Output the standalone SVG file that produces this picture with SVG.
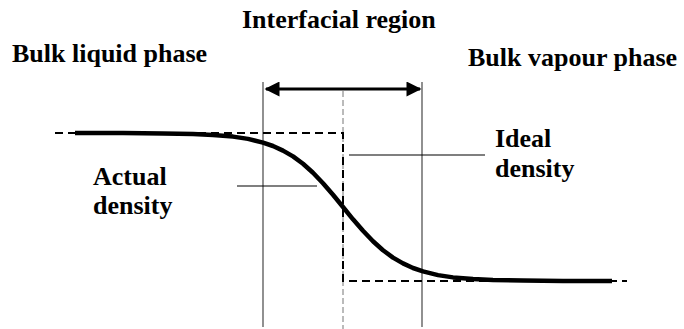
<svg xmlns="http://www.w3.org/2000/svg" width="684" height="329" viewBox="0 0 684 329">
<style>
.guide{stroke:#555;stroke-width:1.3;fill:none}
.ideal{stroke:#000;stroke-width:2;stroke-dasharray:8 5;fill:none}
.mid{stroke:#777;stroke-width:1;stroke-dasharray:6 3;fill:none}
.leader{stroke:#000;stroke-width:1.2;fill:none}
</style>
<defs>
<marker id="ah" viewBox="0 0 10 10" refX="9" refY="5" markerWidth="6" markerHeight="5" orient="auto-start-reverse" markerUnits="strokeWidth">
<path d="M0,0 L10,5 L0,10 Z" fill="#000"/>
</marker>
</defs>
<rect width="684" height="329" fill="#fff"/>
<g id="connectors">
<line class="guide" x1="263" y1="82" x2="263" y2="327"/>
<line class="guide" x1="422" y1="82" x2="422" y2="327"/>
<line class="mid" x1="343" y1="91" x2="343" y2="329"/>
<line x1="266" y1="89" x2="420" y2="89" stroke="#000" stroke-width="3" marker-start="url(#ah)" marker-end="url(#ah)"/>
<path class="ideal" d="M55,133 H343 V281 H627"/>
<polyline fill="none" stroke="#000" stroke-width="4.5" stroke-linejoin="round" points="75,133 123,133.1 163,133.4 193,134 213,134.9 233,136.6 248,138.9 263,142.6 273,146 283,150.6 293,156.4 303,163.8 313,172.7 323,183.2 333,194.8 343,207 353,219.3 363,230.8 373,241.3 383,250.2 393,257.6 403,263.4 413,268 423,271.4 438,275.1 453,277.4 473,279.1 493,280 523,280.6 563,280.9 612,281"/>
<line class="leader" x1="237" y1="186" x2="317" y2="186"/>
<line class="leader" x1="349" y1="155" x2="485" y2="155"/>
</g>
<g id="interfacial"><text x="242" y="28" style="font-family:'Liberation Serif',serif;font-weight:bold;font-size:26px">Interfacial region</text></g>
<g id="liquid"><text x="12" y="62" style="font-family:'Liberation Serif',serif;font-weight:bold;font-size:26px">Bulk liquid phase</text></g>
<g id="vapour"><text x="468" y="66" style="font-family:'Liberation Serif',serif;font-weight:bold;font-size:26px">Bulk vapour phase</text></g>
<g id="actual"><text x="93" y="185" style="font-family:'Liberation Serif',serif;font-weight:bold;font-size:26px">Actual</text><text x="93" y="214" style="font-family:'Liberation Serif',serif;font-weight:bold;font-size:26px">density</text></g>
<g id="ideal"><text x="495" y="147" style="font-family:'Liberation Serif',serif;font-weight:bold;font-size:26px">Ideal</text><text x="495" y="177" style="font-family:'Liberation Serif',serif;font-weight:bold;font-size:26px">density</text></g>
</svg>
